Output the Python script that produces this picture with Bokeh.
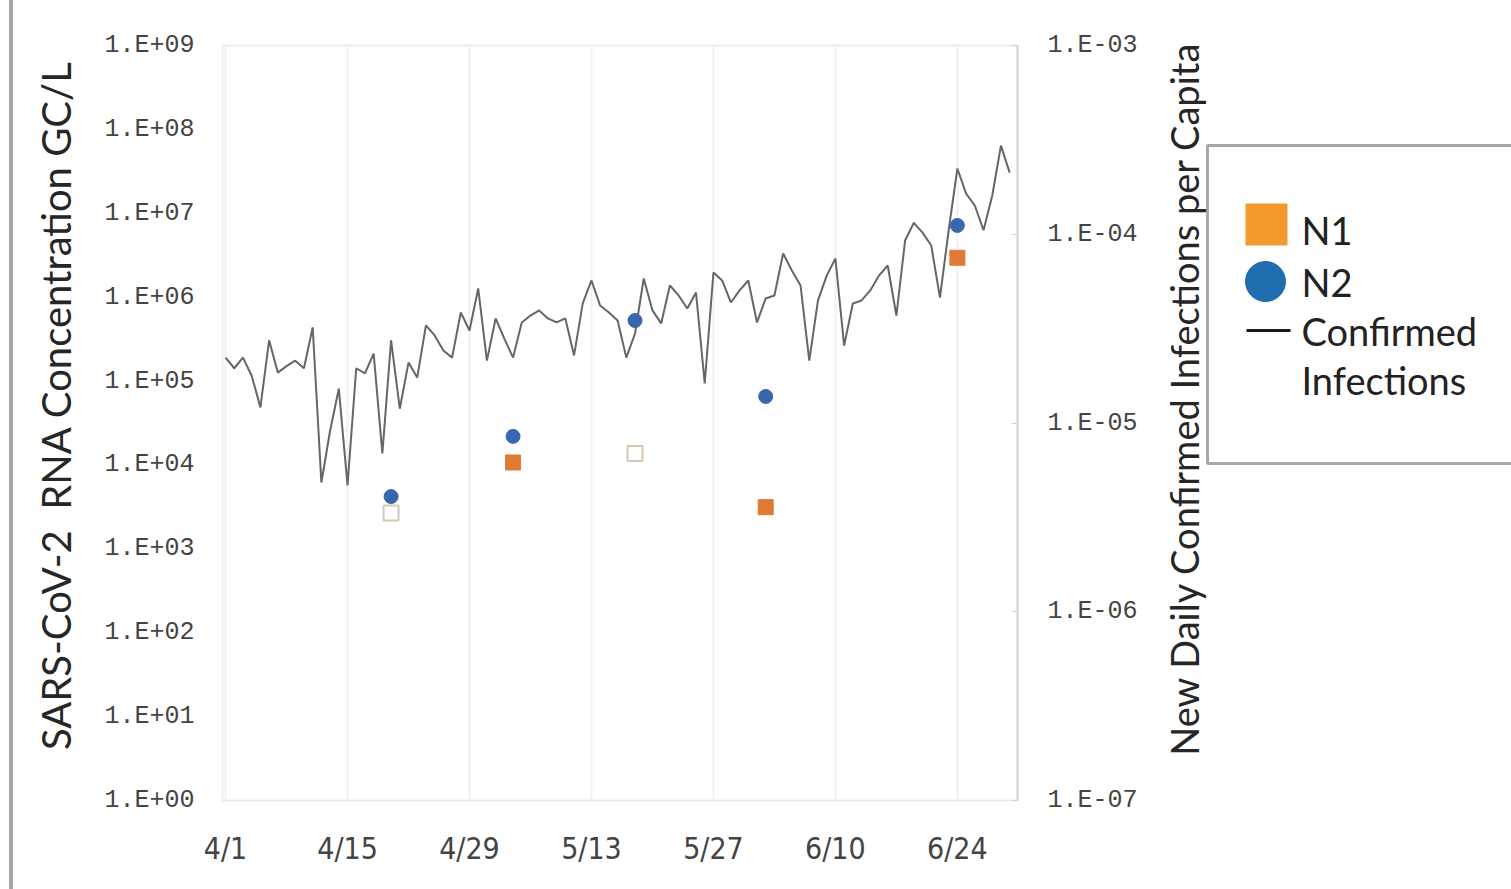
import math
import pandas as pd
from bokeh.plotting import figure
from bokeh.models import Range1d, LogAxis, LogScale, FixedTicker, Div, Spacer, Label
from bokeh.layouts import row
from bokeh.embed import file_html
from bokeh.resources import INLINE
from bokeh.core.properties import value

# ---------------- data ----------------
start_date = "2020-04-01"
# new daily confirmed infections per capita (right axis), one value per day from 4/1
infections_per_capita = [
    2.22e-5, 1.95e-5, 2.22e-5, 1.78e-5, 1.21e-5, 2.74e-5, 1.85e-5, 2.00e-5, 2.14e-5, 1.95e-5,
    3.21e-5, 4.84e-6, 9.10e-6, 1.52e-5, 4.67e-6, 1.95e-5, 1.83e-5, 2.33e-5, 6.90e-6, 2.74e-5,
    1.19e-5, 2.09e-5, 1.74e-5, 3.29e-5, 2.91e-5, 2.42e-5, 2.22e-5, 3.85e-5, 3.09e-5, 5.16e-5,
    2.14e-5, 3.58e-5, 2.80e-5, 2.22e-5, 3.41e-5, 3.71e-5, 3.95e-5, 3.58e-5, 3.41e-5, 3.58e-5,
    2.28e-5, 4.30e-5, 5.69e-5, 4.19e-5, 3.85e-5, 3.49e-5, 2.22e-5, 2.98e-5, 5.83e-5, 3.95e-5,
    3.37e-5, 5.35e-5, 4.74e-5, 4.04e-5, 4.91e-5, 1.62e-5, 6.27e-5, 5.69e-5, 4.35e-5, 5.04e-5,
    5.69e-5, 3.41e-5, 4.57e-5, 4.74e-5, 7.91e-5, 6.43e-5, 5.35e-5, 2.14e-5, 4.46e-5, 6.04e-5,
    7.44e-5, 2.57e-5, 4.30e-5, 4.46e-5, 5.04e-5, 6.04e-5, 6.83e-5, 3.71e-5, 9.27e-5, 1.15e-4,
    1.02e-4, 8.72e-5, 4.62e-5, 1.05e-4, 2.23e-4, 1.64e-4, 1.42e-4, 1.05e-4, 1.60e-4, 2.95e-4,
    2.12e-4,
]

# N2 (GC/L, left axis)
n2_dates = ["2020-04-20", "2020-05-04", "2020-05-18", "2020-06-02", "2020-06-24"]
n2_values = [4.2e3, 2.19e4, 5.27e5, 6.55e4, 7.16e6]

# N1 detected (filled) and N1 open markers (GC/L, left axis)
n1_dates = ["2020-05-04", "2020-06-02", "2020-06-24"]
n1_values = [1.07e4, 3.14e3, 2.95e6]
n1_open_dates = ["2020-04-20", "2020-05-18"]
n1_open_values = [2.67e3, 1.37e4]

x_tick_labels = ["4/1", "4/15", "4/29", "5/13", "5/27", "6/10", "6/24"]
left_tick_exponents = [0, 1, 2, 3, 4, 5, 6, 7, 8, 9]
right_tick_exponents = [-7, -6, -5, -4, -3]

left_title = "SARS-CoV-2\u00a0 RNA Concentration GC/L"
right_title = "New Daily Confirmed Infections per Capita"
legend_labels = ["N1", "N2", "Confirmed", "Infections"]

# ---------------- helpers ----------------
t0 = pd.Timestamp(start_date)


def day_of(d):
    return (pd.Timestamp(d) - t0).days


line_days = list(range(len(infections_per_capita)))
n2_x = [day_of(d) for d in n2_dates]
n1_x = [day_of(d) for d in n1_dates]
n1o_x = [day_of(d) for d in n1_open_dates]
x_ticks = [day_of(pd.Timestamp(f"2020/{lab}")) for lab in x_tick_labels]

ORANGE = "#E07A35"
BLUE = "#3A66B0"
LINE = "#666666"
TITLE_FONT = "Lato"
TICK_FONT = "Liberation Mono"
XTICK_FONT = "DejaVu Sans Condensed, Roboto Condensed, Liberation Sans Narrow, Roboto"

PAGE_W, PAGE_H = 1511, 889
FRAME_TOP, FRAME_BOTTOM_BORDER = 45, 89
FRAME_LEFT, FRAME_RIGHT = 222, 1017
LEFT_PAD = 13                 # spacer + grey edge bar
TITLE_X1 = 92                 # end of left title panel (page px)
SIDE_X0 = 1150                # start of right title / legend panel (page px)
MAIN_W = SIDE_X0 - TITLE_X1


def panel(x0, x1):
    """A blank figure whose data coordinates equal page pixels."""
    f = figure(width=x1 - x0, height=PAGE_H,
               x_range=Range1d(x0, x1),
               y_range=Range1d(PAGE_H - FRAME_BOTTOM_BORDER, FRAME_TOP),
               output_backend="svg", toolbar_location=None,
               min_border_left=0, min_border_right=0,
               min_border_top=FRAME_TOP, min_border_bottom=FRAME_BOTTOM_BORDER,
               x_axis_location=None, y_axis_location=None,
               background_fill_color="white", border_fill_color="white")
    f.grid.visible = False
    f.outline_line_color = None
    return f


# ---------------- main figure ----------------
p = figure(
    width=MAIN_W, height=PAGE_H,
    x_range=Range1d(-0.35, 90.9),
    y_range=Range1d(1, 1e9),
    y_axis_type="log",
    output_backend="svg", toolbar_location=None,
    min_border_left=FRAME_LEFT - TITLE_X1, min_border_right=SIDE_X0 - FRAME_RIGHT,
    min_border_top=FRAME_TOP, min_border_bottom=FRAME_BOTTOM_BORDER,
    background_fill_color="white", border_fill_color="white",
)
p.outline_line_color = "#eeeeee"
p.outline_line_width = 2

p.extra_y_ranges = {"cap": Range1d(1e-7, 1e-3)}
p.extra_y_scales = {"cap": LogScale()}

# x axis
xa = p.xaxis[0]
xa.ticker = FixedTicker(ticks=x_ticks)
xa.major_label_overrides = {t: lab for t, lab in zip(x_ticks, x_tick_labels)}
xa.axis_line_color = "#e8e8e8"
xa.major_tick_line_color = None
xa.major_tick_out = 0
xa.major_tick_in = 0
xa.minor_tick_line_color = None
xa.major_label_standoff = 30
xa.major_label_text_font = XTICK_FONT
xa.major_label_text_font_size = "30px"
xa.major_label_text_color = "#444444"

# left axis
ly = p.yaxis[0]
left_ticks = [10 ** e for e in left_tick_exponents]
ly.ticker = FixedTicker(ticks=left_ticks)
ly.major_label_overrides = {10 ** e: f"1.E+{e:02d}" for e in left_tick_exponents}
ly.axis_line_color = "#eeeeee"
ly.major_tick_line_color = None
ly.major_tick_out = 0
ly.major_tick_in = 0
ly.minor_tick_line_color = None
ly.major_label_standoff = 28
ly.major_label_text_font = TICK_FONT
ly.major_label_text_font_size = "25px"
ly.major_label_text_color = "#444444"

# right axis
right_ticks = [10.0 ** e for e in right_tick_exponents]
ra = LogAxis(y_range_name="cap", ticker=FixedTicker(ticks=right_ticks))
ra.major_label_overrides = {10.0 ** e: f"1.E-{-e:02d}" for e in right_tick_exponents}
ra.axis_line_color = "#d4d4d4"
ra.axis_line_width = 2
ra.major_tick_in = 6
ra.major_tick_out = 0
ra.major_tick_line_color = "#d4d4d4"
ra.minor_tick_line_color = None
ra.major_label_standoff = 30
ra.major_label_text_font = TICK_FONT
ra.major_label_text_font_size = "25px"
ra.major_label_text_color = "#444444"
p.add_layout(ra, "right")

# grids
p.xgrid.ticker = FixedTicker(ticks=x_ticks)
p.xgrid.grid_line_color = "#f1f1f1"
p.xgrid.grid_line_width = 2
p.ygrid.grid_line_color = None

# glyphs
p.line(line_days, infections_per_capita, y_range_name="cap",
       line_color=LINE, line_width=2)
p.scatter(n1o_x, n1_open_values, marker="square", size=15,
          fill_color="white", line_color="#d6c8b2", line_width=2)
p.scatter(n1_x, n1_values, marker="square", size=15,
          fill_color=ORANGE, line_color=ORANGE)
p.scatter(n2_x, n2_values, marker="circle", size=14,
          fill_color=BLUE, line_color=BLUE)

# ---------------- left title panel ----------------
lt = panel(LEFT_PAD, TITLE_X1)
lt.add_layout(Label(x=55, y=405, text=left_title, angle=math.pi / 2,
                    text_align="center", text_baseline="middle",
                    text_font=TITLE_FONT, text_font_size="40px", text_color="#262626"))

# ---------------- side panel: right-axis title + legend ----------------
lg = panel(SIDE_X0, PAGE_W)
lg.add_layout(Label(x=1183, y=398, text=right_title, angle=math.pi / 2,
                    text_align="center", text_baseline="middle",
                    text_font=TITLE_FONT, text_font_size="38px", text_color="#262626"))

lg.quad(left=[1207], right=[1620], top=[145], bottom=[463],
        fill_color="white", line_color="#a8a8a8", line_width=3)
lg.scatter([1266], [224], marker="square", size=41, fill_color="#F39A2E", line_color="#F39A2E")
lg.scatter([1265], [281], marker="circle", size=40, fill_color="#1F6CAE", line_color="#1F6CAE")
lg.segment(x0=[1246], y0=[330], x1=[1290], y1=[330], line_color="#1a1a1a", line_width=3)
lg.text([1301, 1301, 1301, 1301], [229, 281, 330, 379], text=legend_labels,
        text_font=value(TITLE_FONT), text_font_size="38px", text_color="#222222",
        text_baseline="middle", text_align="left")

left_bar = Div(text="", width=4, height=PAGE_H, margin=0,
               styles={"background-color": "#a6a6a6"})
layout = row(Spacer(width=9, height=PAGE_H, margin=0), left_bar, lt, p, lg, spacing=0)

open("out.html", "w").write(file_html(layout, INLINE))
